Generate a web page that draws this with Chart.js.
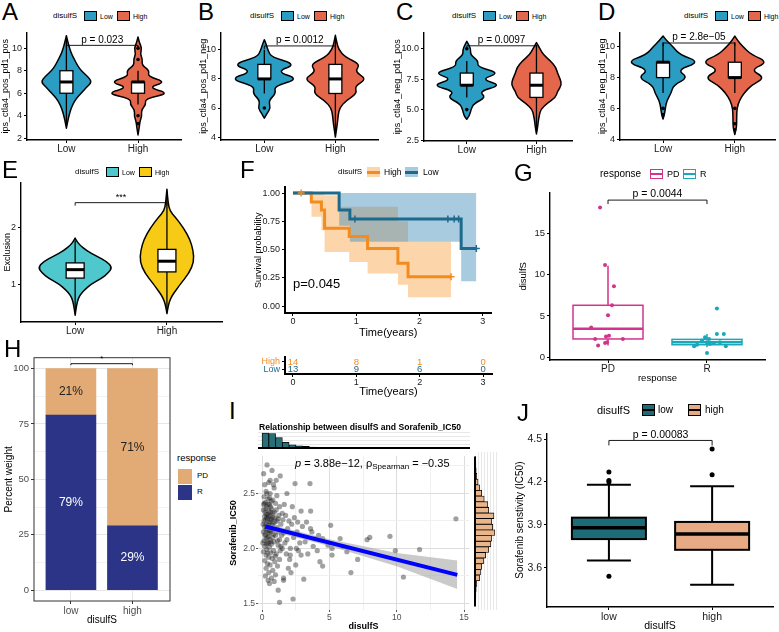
<!DOCTYPE html>
<html>
<head>
<meta charset="utf-8">
<title>disulfS panels</title>
<script src="https://cdn.jsdelivr.net/npm/chart.js@4.4.1/dist/chart.umd.min.js"></script>
<style>
  body { margin: 0; width: 779px; height: 632px; position: relative; overflow: hidden; background: #fff;
         font-family: "Liberation Sans", Arial, sans-serif; color: #000; }
  .tx { position: absolute; white-space: nowrap; line-height: 1; }
  .sq { position: absolute; box-sizing: border-box; }
</style>
</head>
<body>
<script>
const FONT = '"Liberation Sans", Arial, sans-serif';
Chart.defaults.font.family = FONT;

// ---------- A-D: immune phenoscore by disulfS ----------
const ipsGroups = ['Low', 'High'];
const ipsColors = ['#2B9CC2', '#E4674B'];
const ipsPvals = ['p = 0.023', 'p = 0.0012', 'p = 0.0097', 'p = 2.8e\u221205'];
const ipsTitles = ['ips_ctla4_pos_pd1_pos', 'ips_ctla4_pos_pd1_neg', 'ips_ctla4_neg_pd1_pos', 'ips_ctla4_neg_pd1_neg'];

// violin profiles: [score, relative density]
const aLowViolin = [[2.9,0],[3.5,0.04],[4,0.08],[4.5,0.13],[5,0.2],[5.5,0.3],[6,0.46],[6.5,0.62],[7,0.8],[7.5,0.66],[8,0.46],[8.5,0.34],[9,0.25],[9.5,0.16],[10,0.1],[10.5,0.05],[11.1,0]];
const aHighViolin = [[2.3,0],[3,0.04],[3.5,0.06],[4,0.12],[4.5,0.1],[5,0.25],[5.5,0.22],[6,1],[6.5,0.3],[7,0.88],[7.5,0.3],[8,0.36],[8.5,0.12],[9,0.14],[9.5,0.07],[10,0.12],[10.5,0.04],[11,0]];
const bLowViolin = [[5.3,0],[5.6,0.07],[6,0.18],[6.5,0.12],[7,0.33],[7.5,0.28],[8,1],[8.5,0.33],[9,0.92],[9.5,0.2],[10,0.1],[10.4,0.05],[10.7,0]];
const bHighViolin = [[4,0],[4.5,0.03],[5,0.06],[5.5,0.08],[6,0.12],[6.5,0.3],[7,0.62],[7.5,0.55],[8,0.9],[8.5,0.55],[9,0.72],[9.5,0.28],[10,0.1],[10.5,0.04],[11,0]];
const cLowViolin = [[4.2,0],[4.5,0.08],[5,0.12],[5.5,0.2],[6,0.55],[6.5,0.35],[7,1],[7.5,0.4],[8,0.95],[8.5,0.3],[9,0.33],[9.5,0.1],[10,0.12],[10.6,0]];
const cHighViolin = [[3,0],[3.5,0.03],[4,0.05],[4.5,0.08],[5,0.12],[5.5,0.3],[6,0.55],[6.5,0.6],[7,0.72],[7.5,0.68],[8,0.6],[8.5,0.55],[9,0.4],[9.5,0.2],[10,0.1],[10.5,0]];
const dLowViolin = [[5.3,0],[5.6,0.04],[6,0.06],[6.5,0.1],[7,0.22],[7.5,0.28],[8,0.68],[8.5,0.38],[9,1],[9.5,0.45],[10,0.27],[10.4,0.1],[10.7,0]];
const dHighViolin = [[4.3,0],[4.7,0.04],[5,0.05],[5.5,0.05],[6,0.06],[6.5,0.12],[7,0.25],[7.5,0.45],[8,0.82],[8.5,0.42],[9,0.9],[9.5,0.45],[10,0.22],[10.4,0.08],[10.7,0]];
// box stats: [q1, median, q3, lower whisker, upper whisker]
const aBox = [[6,7,8,3.2,10.8],[6,7,7,5,8]];
const bBox = [[8,8,9,7,10],[7,8,9,4.2,10.8]];
const cBox = [[7,7,8,6,9],[6,7,8,3.2,10.3]];
const dBox = [[8,9,9,7,10.3],[8,8,9,7,10.3]];
const aOut = [[], [10,9,4,3.3]];
const bOut = [[6], []];
const cOut = [[10,5], []];
const dOut = [[6,5.6], [6,5,4.6]];

// ---------- E: exclusion ----------
const exColors = ['#4FC8CD', '#F7CB15'];
const eLowViolin = [[0.45,0],[0.55,0.02],[0.7,0.06],[0.8,0.12],[0.9,0.25],[1.0,0.43],[1.1,0.7],[1.2,0.9],[1.3,1],[1.4,0.86],[1.5,0.58],[1.6,0.3],[1.7,0.12],[1.78,0.03],[1.82,0]];
const eHighViolin = [[0.48,0],[0.6,0.03],[0.7,0.07],[0.8,0.14],[0.9,0.25],[1.0,0.36],[1.2,0.6],[1.4,0.73],[1.6,0.71],[1.8,0.62],[2.0,0.45],[2.2,0.22],[2.3,0.08],[2.45,0.03],[2.69,0]];
const eBox = [[1.11,1.26,1.38,0.48,1.78],[1.22,1.41,1.62,0.5,2.65]];

// ---------- F: survival ----------
const kmHighT = [0, 0.29, 0.45, 0.5, 0.89, 1.18, 1.66, 1.82, 2.5];
const kmHighS = [1, 0.92, 0.85, 0.69, 0.615, 0.51, 0.38, 0.26, 0.26];
const kmLowT = [0, 0.73, 0.9, 2.66, 2.9];
const kmLowS = [1, 0.85, 0.77, 0.51, 0.51];
const ciHighT = [0.29, 0.45, 0.5, 0.73, 0.89, 1.18, 1.66, 1.82, 2.5];
const ciHighUp = [1, 1, 0.98, 0.88, 0.88, 0.88, 0.75, 0.57, 0.57];
const ciHighLo = [0.79, 0.67, 0.48, 0.48, 0.39, 0.29, 0.19, 0.08, 0.08];
const ciLowT = [0.73, 0.9, 2.66, 2.9];
const ciLowUp = [1, 1, 1, 1];
const ciLowLo = [0.71, 0.57, 0.22, 0.22];
const censorHigh = [[0.13, 1], [2.5, 0.26]];
const censorLow = [[0.98, 0.77], [2.45, 0.77], [2.55, 0.77], [2.62, 0.77], [2.9, 0.51]];
const riskTimes = [0, 1, 2, 3];
const riskHigh = [14, 8, 1, 0];
const riskLow = [13, 9, 6, 0];
const kmOrange = '#F28C1E', kmBlue = '#1E6A8D';

// ---------- G: disulfS by response ----------
const respGroups = ['PD', 'R'];
const respColors = ['#D2348B', '#1AA7B8'];
const pdPoints = [[-0.08,18.2],[-0.03,11.2],[0.06,8.6],[0.04,6.3],[0,5.1],[-0.17,3.6],[-0.13,2.2],[0.15,2.2],[-0.02,2.5],[0.01,2.6],[-0.1,1.4],[-0.03,1.7],[-0.01,1.8]];
const rPoints = [[0.1,5.9],[0,0.5],[-0.13,1.3],[0.19,1.3],[0.1,2.8],[0.17,2.8],[-0.02,2.4],[0,1.8],[0.03,1.6],[0.07,1.7],[-0.05,2.0],[-0.1,1.5],[0.13,1.8],[0.02,2.2]];
const respBox = [[2.2,3.45,6.3,1.4,11.1],[1.5,1.8,2.15,1.2,2.8]];

// ---------- H: response share ----------
const fracGroups = ['low', 'high'];
const fracR = [79, 29];
const fracPD = [21, 71];

// ---------- I: disulfS vs Sorafenib IC50 ----------
const iPoints = [
[0.12,2.68],[0.37,2.76],[0.74,2.71],[1.35,2.66],[0.2,2.58],[0.5,2.6],[0.9,2.55],[0.3,2.52],[0.6,2.5],[1.1,2.48],
[0.15,2.47],[0.45,2.45],[0.8,2.44],[0.25,2.42],[0.55,2.4],[1.0,2.41],[1.3,2.38],[0.35,2.38],[0.7,2.36],[0.1,2.35],
[0.5,2.34],[0.9,2.33],[1.5,2.32],[0.3,2.31],[0.6,2.3],[0.2,2.29],[0.8,2.28],[1.2,2.27],[0.4,2.27],[0.65,2.26],
[0.15,2.25],[0.95,2.24],[0.5,2.23],[0.3,2.22],[1.4,2.22],[0.75,2.21],[0.2,2.2],[0.55,2.19],[1.1,2.19],[0.35,2.18],
[0.85,2.17],[0.45,2.16],[0.1,2.15],[0.65,2.15],[1.6,2.14],[0.25,2.13],[1.0,2.12],[0.5,2.11],[0.8,2.1],[0.3,2.09],
[0.6,2.08],[1.3,2.08],[0.15,2.07],[0.9,2.06],[0.4,2.05],[0.7,2.04],[1.2,2.03],[0.2,2.02],[0.55,2.01],[1.5,2.0],
[0.35,1.99],[0.85,1.98],[0.1,1.97],[0.65,1.96],[1.05,1.95],[0.3,1.94],[0.5,1.92],[0.75,1.91],[1.3,1.9],[0.2,1.89],
[0.95,1.88],[0.4,1.86],[0.6,1.85],[1.15,1.84],[0.3,1.82],[0.8,1.8],[0.5,1.78],[1.0,1.76],[0.25,1.75],[0.7,1.73],
[0.45,1.71],[0.9,1.7],[1.6,1.71],[0.55,1.68],[0.35,2.5],[0.6,2.62],[0.95,2.28],[0.42,2.31],[0.28,2.36],[0.58,2.24],
[0.78,2.32],[0.18,2.41],[0.68,2.43],[0.48,2.29],[1.25,2.3],[1.45,2.12],[1.7,2.05],[1.8,1.95],[1.9,2.18],[2.0,2.25],
[1.75,2.3],[1.65,2.4],[1.85,2.08],[2.1,2.0],[2.2,2.22],[2.05,1.9],[1.95,1.82],[0.38,2.2],[0.52,2.14],[0.62,2.33],
[0.72,2.18],[0.32,2.04],[0.44,2.4],[0.26,2.26],[0.66,2.06],[0.82,2.23],[0.22,2.12],[0.56,2.46],[0.4,2.1],[0.46,2.21],
[0.34,2.28],[0.58,2.16],[0.7,2.27],[0.28,2.17],[0.5,2.05],[0.64,2.38],[0.42,1.96],[0.24,2.33],[0.86,2.13],[1.05,2.35],
[1.15,2.07],[1.35,1.98],[1.22,2.15],[0.98,1.93],[1.12,2.25],[0.08,2.22],[0.06,2.05],[0.12,2.4],[1.4,2.02],[1.55,2.26],
[2.45,2.59],[3.56,2.59],[3.61,2.34],[2.9,2.34],[5.1,2.21],[7.8,2.08],[8.0,2.1],[9.5,2.11],[9.9,1.98],[11.7,1.99],
[14.4,2.27],[10.5,1.74],[6.6,1.78],[7.1,1.9],[6.3,1.97],[5.2,1.94],[5.2,2.0],[4.3,1.88],[4.5,1.84],[3.1,1.72],
[2.3,1.54],[1.3,1.51],[1.6,1.73],[3.6,2.18],[3.9,2.09],[4.9,2.03],[5.8,2.09],[4.1,1.98],[2.9,1.94],[2.5,1.85],
[2.1,1.94],[3.2,2.06],[3.7,2.15],[4.5,2.09],[2.6,2.15],[2.8,2.05],[3.0,2.2],[2.4,2.28],[2.7,1.98],[3.4,1.95],
[2.35,2.1],[3.8,2.02],[4.2,2.12],[2.55,2.0],[3.3,2.24],[6.0,2.02],[2.25,2.38],[2.65,2.24],[1.85,2.5],[2.15,1.78],
[1.2,1.62],[0.85,2.58],[1.05,2.62]
];
const iFitX = [0.25, 14.5];
const iFitY = [2.2, 1.76];
const iBandX = [0.25, 5, 10, 14.5];
const iBandUp = [2.23, 2.083, 1.959, 1.89];
const iBandLo = [2.17, 2.023, 1.839, 1.63];
const iTopCenters = [0.25,0.75,1.25,1.75,2.25,2.75,3.25,3.75,4.25,4.75,5.25,5.75,6.25,6.75,7.25,7.75,8.25,8.75,9.25,9.75,10.25,10.75,11.25,11.75,12.25,12.75,13.25,13.75,14.25,14.75];
const iTopCounts = [58,56,40,22,12,8,6,4,3,3,2,2,1,1,1,1,1,0,0,1,1,1,0,1,0,0,0,0,1,0];
const iSideCenters = [1.525,1.575,1.625,1.675,1.725,1.775,1.825,1.875,1.925,1.975,2.025,2.075,2.125,2.175,2.225,2.275,2.325,2.375,2.425,2.475,2.525,2.575,2.625,2.675,2.725,2.775];
const iSideCounts = [2,3,4,6,15,18,22,28,35,45,52,55,65,58,55,62,45,42,30,22,15,10,6,4,3,2];

// ---------- J: IC50 by disulfS ----------
const ic50Groups = ['low', 'high'];
const ic50Colors = ['#1E6B78', '#E8AA84'];
const ic50Box = [[3.80,3.88,3.95,3.65,4.18],[3.725,3.835,3.92,3.48,4.17]];
const ic50Out = [[4.27,4.21,4.20,3.54],[4.43,4.25,3.31]];

// ================= helpers =================
function place(box) {
  const d = document.createElement('div');
  d.style.cssText = `position:absolute;left:${box[0]}px;top:${box[1]}px;width:${box[2]}px;height:${box[3]}px`;
  const c = document.createElement('canvas');
  d.appendChild(c);
  document.body.appendChild(d);
  return c;
}

// box = [left, top, w, h] of the canvas, plot = [x0, y0, x1, y1] wanted plot area (page px)
function build(box, plot, cfg) {
  const o = cfg.options;
  const padL = o.scales.y.display === false ? plot[0] - box[0] : 0;
  const padB = o.scales.x.display === false ? box[1] + box[3] - plot[3] : 0;
  o.layout = {padding: {left: padL, top: plot[1] - box[1], right: box[0] + box[2] - plot[2], bottom: padB}};
  if (o.scales.y.display !== false) o.scales.y.afterFit = s => { s.width = plot[0] - box[0]; };
  if (o.scales.x.display !== false) o.scales.x.afterFit = s => { s.height = box[1] + box[3] - plot[3]; };
  o.responsive = true;
  o.maintainAspectRatio = false;
  o.animation = false;
  o.plugins = Object.assign({legend: {display: false}, tooltip: {enabled: false}}, o.plugins || {});
  return new Chart(place(box), cfg);
}

function axis(min, max, ticks, labels, title, o = {}) {
  return {
    type: 'linear', min, max, offset: false,
    afterBuildTicks: s => { s.ticks = ticks.map(v => ({value: v})); },
    ticks: {callback: (v, i) => labels[i], color: o.tc || '#1a1a1a', font: {size: o.fs || 9},
            padding: o.tp ?? 2, autoSkip: false, maxRotation: 0},
    grid: {drawOnChartArea: false, drawTicks: true, tickLength: 3, color: o.gc || '#000', lineWidth: 1, offset: false},
    border: {display: true, color: '#000', width: o.bw || 1.4},
    title: {display: !!title, text: title, color: '#000', padding: o.tpad || 0,
            font: {size: o.ts || 9, weight: o.tw || 'normal'}}
  };
}

function txt(x, yc, s, size, extra) {
  const e = document.createElement('div');
  e.className = 'tx';
  e.style.left = x + 'px';
  e.style.top = (yc - size / 2) + 'px';
  e.style.fontSize = size + 'px';
  e.textContent = s;
  if (extra) Object.assign(e.style, extra);
  document.body.appendChild(e);
  return e;
}
function sq(x, y, w, h, style) {
  const e = document.createElement('div');
  e.className = 'sq';
  e.style.cssText += `left:${x}px;top:${y}px;width:${w}px;height:${h}px;`;
  Object.assign(e.style, style);
  document.body.appendChild(e);
  return e;
}

function smoothSide(ctx, p, first) {
  if (first) ctx.moveTo(p[0][0], p[0][1]); else ctx.lineTo(p[0][0], p[0][1]);
  for (let i = 1; i < p.length - 1; i++) {
    ctx.quadraticCurveTo(p[i][0], p[i][1], (p[i][0] + p[i + 1][0]) / 2, (p[i][1] + p[i + 1][1]) / 2);
  }
  ctx.lineTo(p[p.length - 1][0], p[p.length - 1][1]);
}

function drawViolin(chart, xv, prof, half, fill) {
  const {ctx, scales: {x, y}} = chart;
  const cx = x.getPixelForValue(xv);
  const pts = prof.map(([v, d]) => [y.getPixelForValue(v), d * half]);
  ctx.save();
  ctx.beginPath();
  smoothSide(ctx, pts.map(p => [cx + p[1], p[0]]), true);
  smoothSide(ctx, pts.slice().reverse().map(p => [cx - p[1], p[0]]), false);
  ctx.closePath();
  ctx.fillStyle = fill;
  ctx.fill();
  ctx.lineWidth = 1.5;
  ctx.lineJoin = 'round';
  ctx.strokeStyle = '#000';
  ctx.stroke();
  ctx.restore();
}

function drawBox(chart, xv, s, w, o) {
  const {ctx, scales: {x, y}} = chart;
  const cx = x.getPixelForValue(xv);
  const [q1, md, q3, lo, hi] = s.map(v => y.getPixelForValue(v));
  ctx.save();
  ctx.strokeStyle = o.stroke;
  ctx.lineWidth = o.lw;
  ctx.beginPath();
  ctx.moveTo(cx, q3); ctx.lineTo(cx, hi);
  ctx.moveTo(cx, q1); ctx.lineTo(cx, lo);
  if (o.cap) {
    ctx.moveTo(cx - o.cap / 2, hi); ctx.lineTo(cx + o.cap / 2, hi);
    ctx.moveTo(cx - o.cap / 2, lo); ctx.lineTo(cx + o.cap / 2, lo);
  }
  ctx.stroke();
  ctx.fillStyle = o.fill;
  ctx.fillRect(cx - w / 2, q3, w, q1 - q3);
  ctx.strokeRect(cx - w / 2, q3, w, q1 - q3);
  ctx.lineWidth = o.mlw;
  ctx.beginPath();
  ctx.moveTo(cx - w / 2, md); ctx.lineTo(cx + w / 2, md);
  ctx.stroke();
  ctx.restore();
}

function drawBracket(chart, x1, x2, yv, drop, label, fs) {
  const {ctx, scales: {x, y}} = chart;
  const a = x.getPixelForValue(x1), b = x.getPixelForValue(x2), py = y.getPixelForValue(yv);
  ctx.save();
  ctx.strokeStyle = '#000';
  ctx.lineWidth = 0.9;
  ctx.beginPath();
  ctx.moveTo(a, py + drop); ctx.lineTo(a, py); ctx.lineTo(b, py); ctx.lineTo(b, py + drop);
  ctx.stroke();
  ctx.fillStyle = '#000';
  ctx.font = fs + 'px ' + FONT;
  ctx.textAlign = 'center';
  ctx.textBaseline = 'bottom';
  ctx.fillText(label, (a + b) / 2, py - 0.5);
  ctx.restore();
}

// ================= A-E violins =================
function violinPanel(p) {
  const pts = [];
  p.out.forEach((vals, g) => vals.forEach(v => pts.push({x: g + 1, y: v})));
  build(p.box, p.plot, {
    type: 'scatter',
    data: {datasets: [{data: pts, pointRadius: 1.8, backgroundColor: '#000', borderWidth: 0}]},
    options: {scales: {
      x: axis(p.xr[0], p.xr[1], [1, 2], p.groups, '', {fs: 10, tp: 0}),
      y: axis(p.yr[0], p.yr[1], p.yt, p.yl, p.title, {fs: 9, ts: 9})
    }},
    plugins: [{id: 'violins', beforeDatasetsDraw(c) {
      p.violins.forEach((v, i) => drawViolin(c, i + 1, v, p.half, p.colors[i]));
      p.boxes.forEach((b, i) => drawBox(c, i + 1, b, p.bw, {fill: '#fff', stroke: '#000', lw: 1.3, mlw: 3}));
      drawBracket(c, 1, 2, p.bracket, 3, p.pval, p.pfs || 10);
    }}]
  });
}

violinPanel({box: [0, 25, 185, 135], plot: [27, 28, 182, 140], xr: [0.45, 2.6], yr: [1.85, 11.4],
  yt: [2, 4, 6, 8, 10], yl: ['2', '4', '6', '8', '10'], title: ipsTitles[0], groups: ipsGroups, colors: ipsColors,
  violins: [aLowViolin, aHighViolin], boxes: aBox, out: aOut, half: 32, bw: 13, bracket: 10.25, pval: ipsPvals[0]});
violinPanel({box: [198, 25, 184, 135], plot: [221, 28, 380, 140], xr: [0.39, 2.6], yr: [3.8, 11.2],
  yt: [4, 6, 8, 10], yl: ['4', '6', '8', '10'], title: ipsTitles[1], groups: ipsGroups, colors: ipsColors,
  violins: [bLowViolin, bHighViolin], boxes: bBox, out: bOut, half: 35, bw: 13, bracket: 10.27, pval: ipsPvals[1]});
violinPanel({box: [392, 25, 184, 135], plot: [424, 28, 573, 141], xr: [0.386, 2.51], yr: [2.42, 11.34],
  yt: [2.5, 5, 7.5, 10], yl: ['2.5', '5.0', '7.5', '10.0'], title: ipsTitles[2], groups: ipsGroups, colors: ipsColors,
  violins: [cLowViolin, cHighViolin], boxes: cBox, out: cOut, half: 35, bw: 13, bracket: 10.24, pval: ipsPvals[2]});
violinPanel({box: [597, 25, 182, 135], plot: [620, 28, 778, 140], xr: [0.4, 2.56], yr: [3.94, 10.94],
  yt: [4, 6, 8, 10], yl: ['4', '6', '8', '10'], title: ipsTitles[3], groups: ipsGroups, colors: ipsColors,
  violins: [dLowViolin, dHighViolin], boxes: dBox, out: dOut, half: 37, bw: 13, bracket: 10.25, pval: ipsPvals[3]});
violinPanel({box: [2, 175, 240, 165], plot: [21, 178, 222, 322], xr: [0.41, 2.6], yr: [0.33, 2.81],
  yt: [1, 2], yl: ['1', '2'], title: 'Exclusion', groups: ipsGroups, colors: exColors,
  violins: [eLowViolin, eHighViolin], boxes: eBox, out: [[], []], half: 37, bw: 18, bracket: 2.45, pval: '***', pfs: 9});

// ================= F: Kaplan-Meier =================
const xy = (xs, ys) => xs.map((v, i) => ({x: v, y: ys[i]}));
const stepLine = (data, extra) => Object.assign({type: 'line', data, stepped: 'before', pointRadius: 0, borderWidth: 0, fill: false}, extra);
build([253, 180, 244, 163], [285, 182, 492, 313], {
  type: 'scatter',
  data: {datasets: [
    stepLine(xy(ciHighT, ciHighUp), {fill: '+1', backgroundColor: 'rgba(248,162,66,0.45)', order: 4}),
    stepLine(xy(ciHighT, ciHighLo), {order: 4}),
    stepLine(xy(ciLowT, ciLowUp), {fill: '+1', backgroundColor: 'rgba(64,139,186,0.45)', order: 3}),
    stepLine(xy(ciLowT, ciLowLo), {order: 3}),
    stepLine(xy(kmHighT, kmHighS), {borderColor: kmOrange, borderWidth: 3, order: 2}),
    stepLine(xy(kmLowT, kmLowS), {borderColor: kmBlue, borderWidth: 3, order: 1}),
    {data: censorHigh.map(([x, y]) => ({x, y})), pointStyle: 'cross', pointRadius: 3.5, borderColor: kmOrange, borderWidth: 1.5, order: 0},
    {data: censorLow.map(([x, y]) => ({x, y})), pointStyle: 'cross', pointRadius: 3.5, borderColor: kmBlue, borderWidth: 1.5, order: 0}
  ]},
  options: {scales: {
    x: axis(-0.126, 3.14, riskTimes, riskTimes.map(String), 'Time(years)', {fs: 9, ts: 11, tp: 0, tpad: {bottom: 3}, bw: 2}),
    y: axis(-0.06, 1.05, [0, 0.25, 0.5, 0.75, 1], ['0.00', '0.25', '0.50', '0.75', '1.00'], 'Survival probability', {fs: 9, ts: 9, bw: 2})
  }},
  plugins: [{id: 'pval', afterDatasetsDraw(c) {
    const {ctx, scales: {x, y}} = c;
    ctx.save();
    ctx.font = '13px ' + FONT;
    ctx.fillStyle = '#000';
    ctx.textBaseline = 'middle';
    ctx.fillText('p=0.045', x.getPixelForValue(0), y.getPixelForValue(0.19));
    ctx.restore();
  }}]
});
// risk table
build([253, 350, 244, 51], [285, 352, 492, 374], {
  type: 'scatter',
  data: {datasets: [{data: []}]},
  options: {scales: {
    x: axis(-0.126, 3.14, riskTimes, riskTimes.map(String), 'Time(years)', {fs: 9, ts: 11, tp: 0, tpad: {bottom: 2}, bw: 2}),
    y: axis(0.4, 2.6, [1, 2], ['Low', 'High'], '', {fs: 9, bw: 2, tc: ctx => ctx.tick.value === 2 ? kmOrange : kmBlue})
  }},
  plugins: [{id: 'risk', afterDatasetsDraw(c) {
    const {ctx, scales: {x, y}} = c;
    ctx.save();
    ctx.font = '9.5px ' + FONT;
    ctx.textAlign = 'center';
    ctx.textBaseline = 'middle';
    riskTimes.forEach((t, i) => {
      ctx.fillStyle = kmOrange;
      ctx.fillText(riskHigh[i], x.getPixelForValue(t), y.getPixelForValue(2));
      ctx.fillStyle = kmBlue;
      ctx.fillText(riskLow[i], x.getPixelForValue(t), y.getPixelForValue(1));
    });
    ctx.restore();
  }}]
});

// ================= G: disulfS by response =================
build([518, 185, 254, 199], [550, 190, 765, 360], {
  type: 'scatter',
  data: {datasets: [
    {data: pdPoints.map(([j, v]) => ({x: 1 + j, y: v})), pointRadius: 2, backgroundColor: respColors[0], borderWidth: 0},
    {data: rPoints.map(([j, v]) => ({x: 2 + j, y: v})), pointRadius: 2, backgroundColor: respColors[1], borderWidth: 0}
  ]},
  options: {scales: {
    x: axis(0.414, 2.586, [1, 2], respGroups, 'response', {fs: 10, tp: 0, ts: 9.5}),
    y: axis(-0.36, 20.0, [0, 5, 10, 15], ['0', '5', '10', '15'], 'disulfS', {fs: 9.5, ts: 9.5})
  }},
  plugins: [{id: 'boxes', beforeDatasetsDraw(c) {
    respBox.forEach((b, i) => drawBox(c, i + 1, b, 70, {fill: '#fff', stroke: respColors[i], lw: 1.5, mlw: 2.5}));
    drawBracket(c, 1, 2, 19.1, 4, 'p = 0.0044', 10.5);
  }}]
});

// ================= H: stacked percentages =================
const minor25 = ctx => ctx.tick && ctx.tick.value % 25 !== 0;
build([3, 350, 172, 276], [34, 353, 170, 601], {
  type: 'bar',
  data: {datasets: [
    {label: 'R', data: fracR.map((v, i) => ({x: i + 1, y: v})), backgroundColor: '#2B3486', barThickness: 50},
    {label: 'PD', data: fracPD.map((v, i) => ({x: i + 1, y: v})), backgroundColor: '#E2AA74', barThickness: 50}
  ]},
  options: {scales: {
    x: Object.assign(axis(0.4, 2.61, [1, 2], fracGroups, 'disulfS', {fs: 10, tp: 1, ts: 10, tc: '#4D4D4D'}),
      {stacked: true, grid: {color: '#E6E6E6', tickColor: '#333', drawTicks: true, tickLength: 3, offset: false}, border: {display: false}}),
    y: Object.assign(axis(-4.9, 104.9, [0, 12.5, 25, 37.5, 50, 62.5, 75, 87.5, 100], ['0', '', '25', '', '50', '', '75', '', '100'],
      'Percent weight', {fs: 9.5, ts: 10, tc: '#4D4D4D'}),
      {stacked: true, grid: {color: ctx => minor25(ctx) ? '#F3F3F3' : '#E6E6E6', tickColor: ctx => minor25(ctx) ? 'rgba(0,0,0,0)' : '#333',
        drawTicks: true, tickLength: 3}, border: {display: false}})
  }},
  plugins: [{id: 'labels', afterDatasetsDraw(c) {
    const {ctx, chartArea: a, scales: {x, y}} = c;
    ctx.save();
    ctx.strokeStyle = '#333';
    ctx.lineWidth = 1;
    ctx.strokeRect(a.left, a.top, a.right - a.left, a.bottom - a.top);
    ctx.font = '12px ' + FONT;
    ctx.textAlign = 'center';
    ctx.textBaseline = 'middle';
    fracR.forEach((r, i) => {
      ctx.fillStyle = '#fff';
      ctx.fillText(r + '%', x.getPixelForValue(i + 1), y.getPixelForValue(r / 2));
      ctx.fillStyle = '#222';
      ctx.fillText(fracPD[i] + '%', x.getPixelForValue(i + 1), y.getPixelForValue(r + fracPD[i] / 2));
    });
    ctx.restore();
    drawBracket(c, 1, 2, 102.2, 1.5, '*', 8);
  }}]
});

// ================= I: scatter with marginal histograms =================
const minorI = (ctx, step) => ctx.tick && Math.abs(ctx.tick.value % step) > 1e-9;
build([228, 450, 245, 182], [258, 452, 470, 610], {
  type: 'scatter',
  data: {datasets: [
    {data: iPoints.map(([x, y]) => ({x, y})), pointRadius: 2.6, backgroundColor: 'rgba(30,30,30,0.42)', borderWidth: 0, order: 3},
    {type: 'line', data: xy(iBandX, iBandUp), pointRadius: 0, borderWidth: 0, fill: '+1', backgroundColor: 'rgba(150,150,150,0.5)', order: 2},
    {type: 'line', data: xy(iBandX, iBandLo), pointRadius: 0, borderWidth: 0, fill: false, order: 2},
    {type: 'line', data: xy(iFitX, iFitY), pointRadius: 0, borderWidth: 4, borderColor: '#0000FF', fill: false, order: 1}
  ]},
  options: {scales: {
    x: Object.assign(axis(-0.3, 15.37, [0, 2.5, 5, 7.5, 10, 12.5, 15], ['0', '', '5', '', '10', '', '15'], 'disulfS',
      {fs: 8.5, ts: 9, tw: 'bold', tc: '#4D4D4D', tp: 1}),
      {grid: {color: c => minorI(c, 5) ? '#F0F0F0' : '#DDDDDD', tickColor: c => minorI(c, 5) ? 'rgba(0,0,0,0)' : '#555',
        drawTicks: true, tickLength: 2}, border: {display: false}}),
    y: Object.assign(axis(1.44, 2.84, [1.5, 1.75, 2, 2.25, 2.5, 2.75], ['1.5', '', '2.0', '', '2.5', ''], 'Sorafenib_IC50',
      {fs: 8.5, ts: 9, tw: 'bold', tc: '#4D4D4D', tp: 1}),
      {grid: {color: c => minorI(c, 0.5) ? '#F0F0F0' : '#DDDDDD', tickColor: c => minorI(c, 0.5) ? 'rgba(0,0,0,0)' : '#555',
        drawTicks: true, tickLength: 2}, border: {display: false}})
  }},
  plugins: [{id: 'stat', afterDatasetsDraw(c) {
    const {ctx, scales: {x, y}} = c;
    let px = x.getPixelForValue(2.45);
    const py = y.getPixelForValue(2.77);
    ctx.save();
    ctx.fillStyle = '#000';
    ctx.textBaseline = 'middle';
    const part = (s, f, dy = 0) => { ctx.font = f; ctx.fillText(s, px, py + dy); px += ctx.measureText(s).width; };
    part('p', 'italic 11px ' + FONT);
    part(' = 3.88e\u221212, \u03C1', '11px ' + FONT);
    part('Spearman', '8px ' + FONT, 3);
    part(' = \u22120.35', '11px ' + FONT);
    ctx.restore();
  }}]
});
// top histogram
build([258, 430, 212, 20], [258, 432, 470, 448], {
  type: 'bar',
  data: {datasets: [{data: xy(iTopCenters, iTopCounts), backgroundColor: '#2A6E76', borderColor: '#000', borderWidth: 0.8,
    barPercentage: 1, categoryPercentage: 1}]},
  options: {scales: {
    x: {type: 'linear', min: -0.3, max: 15.37, display: false, offset: false, grid: {offset: false}},
    y: {type: 'linear', min: 0, max: 62, afterBuildTicks: s => { s.ticks = [15, 30, 45, 60].map(v => ({value: v})); },
      ticks: {display: false}, grid: {color: '#E8E8E8', drawTicks: false}, border: {display: false}}
  }},
  plugins: [{id: 'base', afterDatasetsDraw(c) {
    const {ctx, chartArea: a, scales: {y}} = c;
    ctx.save();
    ctx.strokeStyle = '#000';
    ctx.lineWidth = 2;
    ctx.beginPath();
    ctx.moveTo(a.left, y.getPixelForValue(0)); ctx.lineTo(a.right, y.getPixelForValue(0));
    ctx.stroke();
    ctx.restore();
  }}]
});
// side histogram
build([473, 452, 26, 158], [475, 452, 497, 610], {
  type: 'bar',
  data: {datasets: [{data: iSideCenters.map((v, i) => ({y: v, x: iSideCounts[i]})), backgroundColor: '#E9B68C',
    borderColor: '#000', borderWidth: 0.8, barPercentage: 1, categoryPercentage: 1}]},
  options: {indexAxis: 'y', scales: {
    x: {type: 'linear', min: 0, max: 72, afterBuildTicks: s => { s.ticks = [10, 20, 30, 40, 50, 60, 70].map(v => ({value: v})); },
      ticks: {display: false}, grid: {color: '#E8E8E8', drawTicks: false}, border: {display: false}},
    y: {type: 'linear', min: 1.44, max: 2.84, display: false, offset: false, grid: {offset: false}}
  }},
  plugins: [{id: 'base', afterDatasetsDraw(c) {
    const {ctx, scales: {x, y}} = c;
    ctx.save();
    ctx.strokeStyle = '#000';
    ctx.lineWidth = 2;
    ctx.beginPath();
    ctx.moveTo(x.getPixelForValue(0), y.getPixelForValue(2.8)); ctx.lineTo(x.getPixelForValue(0), y.getPixelForValue(1.47));
    ctx.stroke();
    ctx.restore();
  }}]
});

// ================= J: IC50 boxplot =================
const jOutPts = [];
ic50Out.forEach((vals, g) => vals.forEach(v => jOutPts.push({x: g + 1, y: v})));
build([514, 425, 263, 207], [547, 430, 777, 607], {
  type: 'scatter',
  data: {datasets: [{data: jOutPts, pointRadius: 2.5, backgroundColor: '#000', borderWidth: 0}]},
  options: {scales: {
    x: axis(0.4, 2.59, [1, 2], ic50Groups, 'disulfS', {fs: 10.5, tp: 1, ts: 10.5}),
    y: axis(3.325, 4.54, [3.6, 3.9, 4.2, 4.5], ['3.6', '3.9', '4.2', '4.5'], 'Sorafenib senstivity (IC50)', {fs: 10.5, ts: 10})
  }},
  plugins: [{id: 'boxes', beforeDatasetsDraw(c) {
    ic50Box.forEach((b, i) => drawBox(c, i + 1, b, 74, {fill: ic50Colors[i], stroke: '#000', lw: 2, mlw: 3.5, cap: 44}));
    drawBracket(c, 1, 2, 4.49, 5, 'p = 0.00083', 10.5);
  }}]
});

// ================= panel letters, legends, titles =================
[['A', 2, 0], ['B', 198, 0], ['C', 396, 0], ['D', 598, 0], ['E', 2, 158], ['F', 240, 158],
 ['G', 514, 161], ['H', 4, 337], ['I', 229, 399], ['J', 517, 401]].forEach(([s, x, y]) => txt(x, y + 12, s, 24));

function ipsLegend(x0, cols, y) {
  txt(x0, y, 'disulfS', 8);
  sq(x0 + 31, y - 5, 13, 10, {background: cols[0], border: '1px solid #000'});
  txt(x0 + 47, y, 'Low', 7);
  sq(x0 + 64, y - 5, 13, 10, {background: cols[1], border: '1px solid #000'});
  txt(x0 + 80, y, 'High', 7);
}
ipsLegend(53, ipsColors, 16);
ipsLegend(250, ipsColors, 16);
ipsLegend(452, ipsColors, 16);
ipsLegend(684, ipsColors, 16);
ipsLegend(75, exColors, 172);

// F legend
txt(338, 172, 'disulfS', 8);
sq(367, 167, 13, 10, {background: '#FCD5AA'});
sq(367, 171, 13, 2.5, {background: kmOrange});
txt(384, 172, 'High', 8.5);
sq(405, 167, 13, 10, {background: '#A9CBE0'});
sq(405, 171, 13, 2.5, {background: kmBlue});
txt(423, 172, 'Low', 8.5);

// G legend
txt(600, 174, 'response', 10);
sq(650, 169, 13, 10, {background: '#fff', border: '1.5px solid ' + respColors[0]});
sq(650, 173, 13, 2, {background: respColors[0]});
txt(667, 174, 'PD', 9);
sq(683, 169, 13, 10, {background: '#fff', border: '1.5px solid ' + respColors[1]});
sq(683, 173, 13, 2, {background: respColors[1]});
txt(700, 174, 'R', 9);

// H legend
txt(177, 458, 'response', 9.5);
sq(178, 469, 14, 15, {background: '#E2AA74'});
txt(197, 476, 'PD', 8);
sq(178, 485, 14, 15, {background: '#2B3486'});
txt(197, 492, 'R', 8);

// I title
txt(259, 427, 'Relationship between disulfS and Sorafenib_IC50', 8.6, {fontWeight: 'bold'});

// J legend
txt(597, 410, 'disulfS', 11);
sq(642, 404, 13, 12, {background: ic50Colors[0], border: '1.2px solid #000'});
sq(642, 409, 13, 2, {background: '#000'});
txt(658, 410, 'low', 10);
sq(688, 404, 13, 12, {background: ic50Colors[1], border: '1.2px solid #000'});
sq(688, 409, 13, 2, {background: '#000'});
txt(705, 410, 'high', 10);
</script>
</body>
</html>
